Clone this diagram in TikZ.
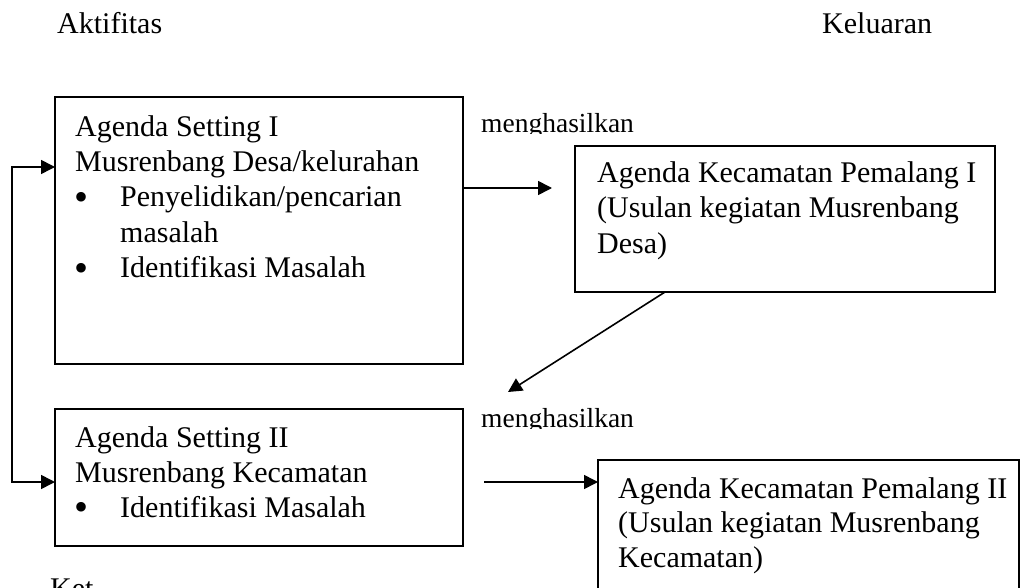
\documentclass[tikz,border=0pt]{standalone}
\usepackage{fontspec}
\setmainfont{Liberation Serif}
\usetikzlibrary{arrows.meta,calc}

\tikzset{
  box/.style={draw, line width=1.6pt, inner sep=0pt, outer sep=0pt, anchor=north west},
  line/.style={anchor=base west, inner sep=0pt, font=\fontsize{30}{35}\selectfont},
  lbl/.style={anchor=base west, inner sep=0pt, font=\fontsize{27.5}{32}\selectfont},
  dot/.style={anchor=center, inner sep=0pt, font=\fontsize{40}{40}\selectfont},
  conn/.style={line width=1.6pt, -{Triangle[length=14pt,width=14pt]}},
  conn2/.style={line width=1.6pt, {Triangle[length=14pt,width=14pt]}-{Triangle[length=14pt,width=14pt]}}
}

\begin{document}
\begin{tikzpicture}[x=1pt,y=-1pt]
\useasboundingbox (0,0) rectangle (1020,588);
\clip (0,0) rectangle (1020,588);

% column headings
\node[line] (hA) at (57,33.5) {Aktifitas};
\node[line] (hK) at (822,33.5) {Keluaran};

% activity boxes
\node[box, minimum width=408pt, minimum height=267pt] (b1) at (55,97) {};
\node[line] (b1l1) at (75,136.5) {Agenda Setting I};
\node[line] (b1l2) at (75,171.8) {Musrenbang Desa/kelurahan};
\node[dot] (b1d1) at (82,201) {•};
\node[line] (b1l3) at (120,207) {Penyelidikan/pencarian};
\node[line] (b1l4) at (120,242.3) {masalah};
\node[dot] (b1d2) at (82,272) {•};
\node[line] (b1l5) at (120,277.6) {Identifikasi Masalah};

\node[box, minimum width=408pt, minimum height=137pt] (b2) at (55,409) {};
\node[line] (b2l1) at (75,447) {Agenda Setting II};
\node[line] (b2l2) at (75,482) {Musrenbang Kecamatan};
\node[dot] (b2d1) at (82,511.5) {•};
\node[line] (b2l3) at (120,517.5) {Identifikasi Masalah};

% output boxes
\node[box, minimum width=420pt, minimum height=146pt] (b3) at (575,146) {};
\node[line] (b3l1) at (597,183) {Agenda Kecamatan Pemalang I};
\node[line] (b3l2) at (597,218) {(Usulan kegiatan Musrenbang};
\node[line] (b3l3) at (597,253) {Desa)};

\node[box, minimum width=421pt, minimum height=160pt] (b4) at (598,460) {};
\node[line] (b4l1) at (618,498) {Agenda Kecamatan Pemalang II};
\node[line] (b4l2) at (618,532.5) {(Usulan kegiatan Musrenbang};
\node[line] (b4l3) at (618,567) {Kecamatan)};

% "menghasilkan" labels, cut off at the bottom
\begin{scope}
  \clip (470,100) rectangle (700,134);
  \node[lbl] (m1) at (481,133) {menghasilkan};
\end{scope}
\begin{scope}
  \clip (470,400) rectangle (700,428);
  \node[lbl] (m2) at (481,427) {menghasilkan};
\end{scope}

\node[line] (ket) at (50,598) {Ket};

% connectors
\coordinate (fbtop) at (12,167);
\coordinate (fbbot) at (12,482);
\draw[conn2] (b1.west |- fbtop) -- (fbtop) -- (fbbot) -- (b2.west |- fbbot);

\coordinate (h1) at (552,188);
\draw[conn] (b1.east |- h1) -- (h1);

\coordinate (d1) at (508,392);
\draw[conn] ($(b3.south west)+(90,0)$) -- (d1);

\coordinate (h2) at (484,482);
\draw[conn] (h2) -- (b4.west |- h2);
\end{tikzpicture}
\end{document}
